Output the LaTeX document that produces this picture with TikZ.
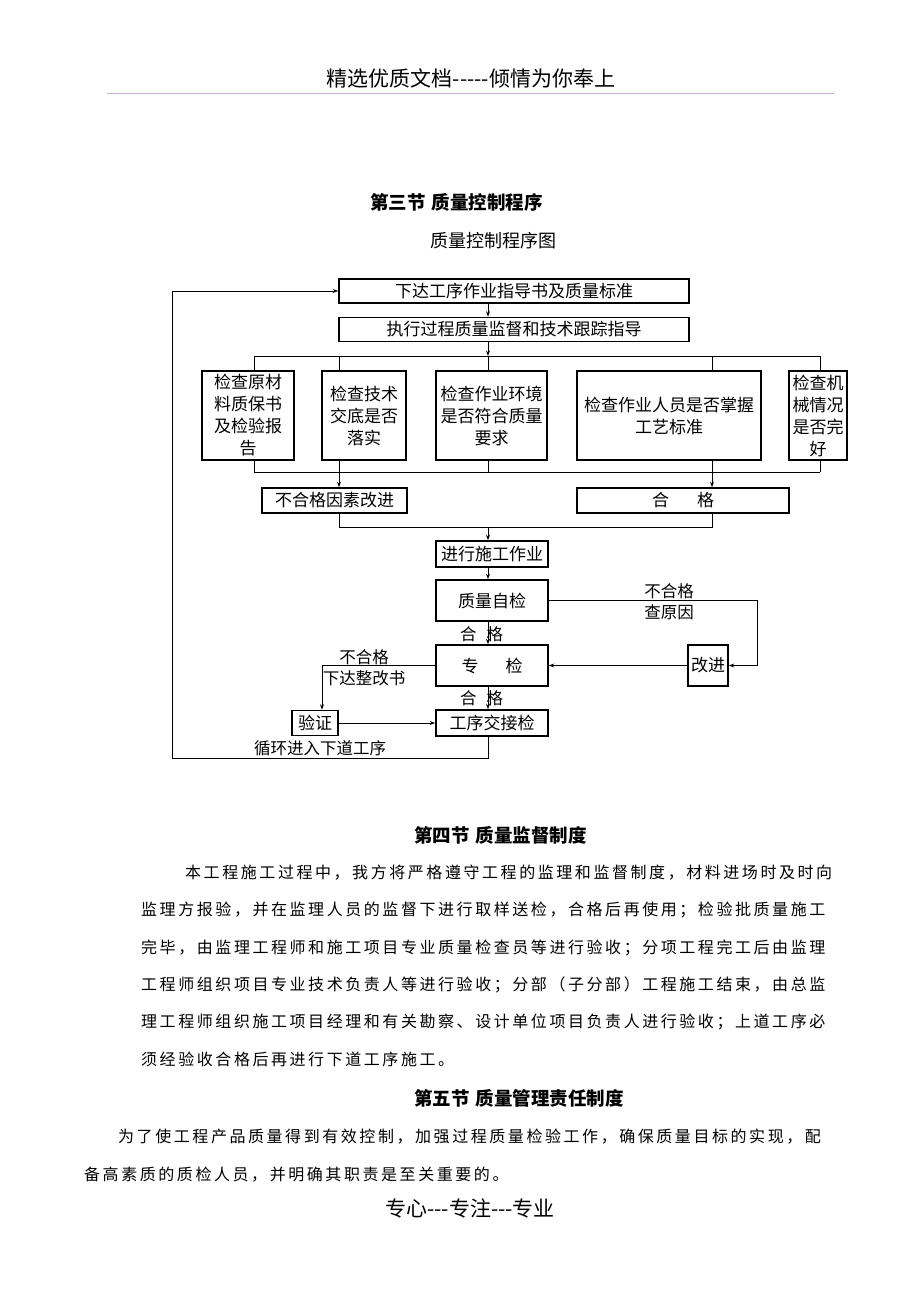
\documentclass[tikz,border=0pt]{standalone}
\usepackage{fontspec}
\setmainfont[Ligatures=ResetAll]{Noto Sans CJK SC}
\newfontfamily\paraf[LetterSpace=16]{Noto Sans CJK SC}
\usetikzlibrary{arrows.meta}
\begin{document}
\begin{tikzpicture}[x=1pt,y=-1pt,
  box/.style={draw,line width=1.6pt,inner sep=0pt,font=\fontsize{17}{22}\selectfont,align=center},
  conn/.style={line width=1pt},
  arr/.style={conn,-{Stealth[length=5.5pt,width=4pt]}},
  lbl/.style={font=\fontsize{16.5}{21}\selectfont,align=center,inner sep=0pt},
  para/.style={anchor=west,inner sep=0pt,font=\fontsize{16}{16}\paraf},
  head/.style={anchor=west,inner sep=0pt,font=\fontsize{18.5}{18.5}\selectfont\bfseries}]
\fill[white] (0,0) rectangle (920,1302);
\useasboundingbox (0,0) rectangle (920,1302);

% page header and footer
\node[inner sep=0pt,font=\fontsize{21}{21}\selectfont] (hdr) at (471,78) {精选优质文档-{}-{}-{}-{}-倾情为你奉上};
\draw[line width=0.9pt,color={rgb,255:red,205;green,175;blue,205}] (107,93.5) -- (834,93.5);
\node[inner sep=0pt,font=\fontsize{21}{21}\selectfont] (ftr) at (470,1208) {专心-{}-{}-专注-{}-{}-专业};

% titles
\node[head] (t3) at (370,202) {第三节\hspace{6pt}质量控制程序};
\node[anchor=west,inner sep=0pt,font=\fontsize{18}{18}\selectfont] (t3b) at (430,241) {质量控制程序图};

% column / row helpers
\coordinate (cA) at (254,0);
\coordinate (cB) at (339,0);
\coordinate (cC) at (488,0);
\coordinate (cD) at (712,0);
\coordinate (cE) at (820,0);
\coordinate (rTop) at (0,356);
\coordinate (rBot) at (0,472);
\coordinate (rJoin) at (0,527);
\coordinate (rr) at (757,0);
\coordinate (ll) at (322,0);
\coordinate (lo) at (172,758);

% nodes
\node[box,minimum width=350pt,minimum height=24pt] (b1) at (514,291) {下达工序作业指导书及质量标准};
\node[box,minimum width=350pt,minimum height=24pt] (b2) at (514,329.5) {执行过程质量监督和技术跟踪指导};
\node[box,minimum width=92pt,minimum height=89pt] (A) at (248,415.5) {检查原材\\料质保书\\及检验报\\告};
\node[box,minimum width=84pt,minimum height=89pt] (B) at (364,415.5) {检查技术\\交底是否\\落实};
\node[box,minimum width=111pt,minimum height=89pt] (C) at (491.5,415.5) {检查作业环境\\是否符合质量\\要求};
\node[box,minimum width=184pt,minimum height=89pt] (D) at (669,415.5) {检查作业人员是否掌握\\工艺标准};
\node[box,minimum width=58pt,minimum height=89pt] (E) at (818,415.5) {检查机\\械情况\\是否完\\好};
\node[box,minimum width=145pt,minimum height=25pt] (bad) at (334.5,500.5) {不合格因素改进};
\node[box,minimum width=212pt,minimum height=25pt] (ok) at (683,500.5) {合\hspace{28pt}格};
\node[box,minimum width=112pt,minimum height=26pt] (work) at (492,554) {进行施工作业};
\node[box,minimum width=112pt,minimum height=41pt] (self) at (492,600.5) {质量自检};
\node[box,minimum width=112pt,minimum height=41pt] (spec) at (492,665.5) {专\hspace{27pt}检};
\node[box,minimum width=112pt,minimum height=26pt] (hand) at (492,723) {工序交接检};
\node[box,minimum width=40pt,minimum height=41pt] (fix) at (708,665.5) {改进};
\node[box,minimum width=46pt,minimum height=25pt] (ver) at (315,723) {验证};

% labels
\node[lbl] (lp1) at (481.5,634) {合\hspace{10pt}格};
\node[lbl] (lp2) at (481.5,698) {合\hspace{10pt}格};
\node[lbl] (lf1) at (669,601.5) {不合格\\查原因};
\node[lbl] (lf2) at (364,667.5) {不合格\\下达整改书};
\node[lbl] (lc) at (320,748) {循环进入下道工序};

% connectors: top part
\draw[arr] (b1.south -| cC) -- (b2.north -| cC);
\draw[arr] (b2.south -| cC) -- (cC |- rTop);
\draw[conn] (cA |- rTop) -- (cE |- rTop);
\foreach \c/\n in {cA/A,cB/B,cC/C,cD/D,cE/E}{
  \draw[conn] (\c |- rTop) -- (\n.north -| \c);
  \draw[conn] (\n.south -| \c) -- (\c |- rBot);
}
\draw[conn] (cA |- rBot) -- (cE |- rBot);
\draw[arr] (cB |- rBot) -- (bad.north -| cB);
\draw[arr] (cD |- rBot) -- (ok.north -| cD);
\draw[conn] (bad.south -| cB) -- (cB |- rJoin) -- (cD |- rJoin) -- (ok.south -| cD);
\draw[arr] (cC |- rJoin) -- (work.north -| cC);

% spine
\draw[arr] (work.south -| cC) -- (self.north -| cC);
\draw[arr] (self.south -| cC) -- (spec.north -| cC);
\draw[arr] (spec.south -| cC) -- (hand.north -| cC);

% right loop
\draw[arr] (self.east) -- (self.east -| rr) -- (rr |- fix.east) -- (fix.east);
\draw[arr] (fix.west) -- (spec.east);

% left loop
\draw[arr] (spec.west) -- (spec.west -| ll) -- (ver.north -| ll);
\draw[arr] (ver.east) -- (hand.west);

% big return loop
\draw[arr] (hand.south -| cC) -- (cC |- lo) -- (lo) -- (lo |- b1.west) -- (b1.west);

% section 4
\node[head] (t4) at (414,835) {第四节\hspace{6pt}质量监督制度};
\node[para] (p1) at (185,873) {本工程施工过程中，我方将严格遵守工程的监理和监督制度，材料进场时及时向};
\node[para] (p2) at (141,910.3) {监理方报验，并在监理人员的监督下进行取样送检，合格后再使用；检验批质量施工};
\node[para] (p3) at (141,947.6) {完毕，由监理工程师和施工项目专业质量检查员等进行验收；分项工程完工后由监理};
\node[para] (p4) at (141,984.9) {工程师组织项目专业技术负责人等进行验收；分部（子分部）工程施工结束，由总监};
\node[para] (p5) at (141,1022.2) {理工程师组织施工项目经理和有关勘察、设计单位项目负责人进行验收；上道工序必};
\node[para] (p6) at (141,1059.5) {须经验收合格后再进行下道工序施工。};

% section 5
\node[head] (t5) at (414,1098) {第五节\hspace{6pt}质量管理责任制度};
\node[para] (q1) at (118,1137) {为了使工程产品质量得到有效控制，加强过程质量检验工作，确保质量目标的实现，配};
\node[para] (q2) at (84,1175) {备高素质的质检人员，并明确其职责是至关重要的。};
\end{tikzpicture}
\end{document}
